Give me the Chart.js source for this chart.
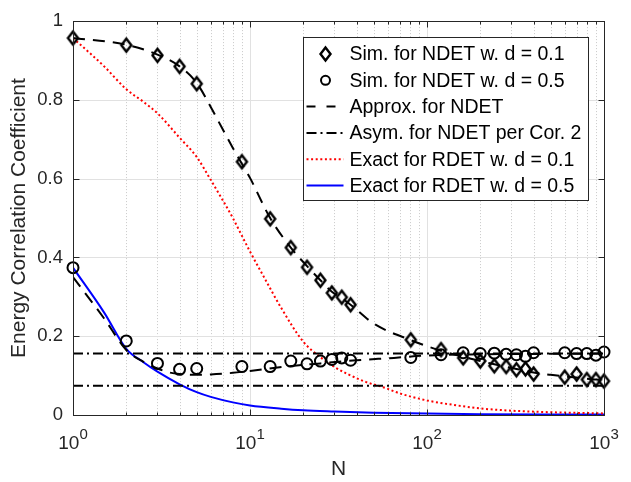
<!DOCTYPE html>
<html>
<head>
<meta charset="utf-8">
<script src="https://cdn.jsdelivr.net/npm/chart.js@4.4.0/dist/chart.umd.min.js"></script>
<style>
  body { margin: 0; background: #fff; }
  #wrap { width: 631px; height: 482px; }
</style>
</head>
<body>
<div id="wrap"><canvas id="chart"></canvas></div>
<script>
// simulated points (same N grid for both)
let nSim = [1, 2, 3, 4, 5, 9, 13, 17, 21, 25, 29, 33, 37, 81, 120, 160, 200, 240, 280, 320, 360, 400, 600, 700, 800, 900, 1000];
let simD01 = [0.957, 0.939, 0.913, 0.885, 0.841, 0.643, 0.498, 0.425, 0.375, 0.342, 0.31, 0.299, 0.28, 0.191, 0.166, 0.145, 0.137, 0.125, 0.123, 0.115, 0.117, 0.104, 0.096, 0.104, 0.09, 0.09, 0.086];
let simD05 = [0.374, 0.188, 0.131, 0.116, 0.118, 0.123, 0.123, 0.137, 0.13, 0.137, 0.141, 0.145, 0.139, 0.146, 0.153, 0.158, 0.156, 0.157, 0.154, 0.153, 0.149, 0.158, 0.158, 0.156, 0.156, 0.152, 0.16];

// approximation curves
let nApx01 = [1, 2, 3, 4, 5, 6, 7, 8, 9, 10, 13, 17, 21, 25, 29, 33, 37, 50, 81, 120, 160, 200, 240, 280, 320, 360, 400, 500, 600, 700, 800, 900, 1000];
let apx01 = [0.957, 0.94, 0.915, 0.885, 0.843, 0.782, 0.726, 0.678, 0.638, 0.602, 0.5, 0.425, 0.378, 0.342, 0.313, 0.297, 0.28, 0.232, 0.19, 0.163, 0.148, 0.137, 0.129, 0.122, 0.117, 0.112, 0.108, 0.102, 0.098, 0.095, 0.092, 0.09, 0.088];
let nApx05 = [1, 1.5, 2, 2.5, 3, 3.5, 4, 5, 6, 8, 10, 16, 25, 40, 65, 100, 200, 400, 1000];
let apx05 = [0.35, 0.245, 0.165, 0.135, 0.118, 0.108, 0.104, 0.102, 0.103, 0.107, 0.112, 0.123, 0.131, 0.139, 0.145, 0.151, 0.154, 0.155, 0.156];

// asymptotes (Cor. 2)
let nAsym = [1, 1000];
let asymHi = [0.156, 0.156];
let asymLo = [0.074, 0.074];

// exact RDET
let nEx01 = [1, 1.5, 2, 2.5, 3, 4, 5, 6, 7, 8, 9, 10, 12, 15, 20, 25, 30, 36, 45, 57, 70, 100, 150, 208, 300, 500, 1000];
let ex01 = [0.957, 0.885, 0.827, 0.795, 0.766, 0.704, 0.655, 0.597, 0.546, 0.5, 0.455, 0.415, 0.35, 0.272, 0.186, 0.147, 0.122, 0.103, 0.084, 0.07, 0.055, 0.037, 0.024, 0.016, 0.011, 0.007, 0.004];
let nEx05 = [1, 1.5, 2, 2.5, 3, 4, 5, 6, 8, 10, 15, 20, 30, 50, 100, 200, 500, 1000];
let ex05 = [0.374, 0.26, 0.168, 0.134, 0.11, 0.078, 0.058, 0.046, 0.032, 0.024, 0.016, 0.012, 0.009, 0.006, 0.004, 0.002, 0.001, 0.001];

// axis labels
let xTicks = [1, 10, 100, 1000];
let xExp = ['0', '1', '2', '3'];

const fam = '"Liberation Sans", Arial, Helvetica, sans-serif';
const axisCol = '#262626';

function pts(xs, ys) {
  return xs.map((x, i) => ({ x: x, y: ys[i] }));
}

// tall diamond marker like matlab's 'd'
function diamond(w, h, lw) {
  let c = document.createElement('canvas');
  c.width = w + lw * 2 + 3;
  c.height = h + lw * 2 + 3;
  let g = c.getContext('2d');
  let cx = c.width / 2, cy = c.height / 2;
  g.strokeStyle = '#000';
  g.lineWidth = lw;
  g.lineJoin = 'miter';
  g.beginPath();
  g.moveTo(cx, cy - h / 2);
  g.lineTo(cx + w / 2, cy);
  g.lineTo(cx, cy + h / 2);
  g.lineTo(cx - w / 2, cy);
  g.closePath();
  g.stroke();
  return c;
}
let diamondImg = diamond(10, 13, 2.4);

// grid, box and inward ticks
const matlabAxes = {
  id: 'matlabAxes',
  beforeDatasetsDraw(chart) {
    const ctx = chart.ctx, a = chart.chartArea;
    const xs = chart.scales.x, ys = chart.scales.y;
    ctx.save();
    ctx.lineWidth = 1;
    for (let d = 1; d <= 100; d *= 10) {
      for (let m = 1; m <= 9; m++) {
        const v = m * d;
        if (v <= 1 || v >= 1000) continue;
        const px = Math.round(xs.getPixelForValue(v)) + 0.5;
        ctx.beginPath();
        if (m === 1) {
          ctx.setLineDash([]);
          ctx.strokeStyle = '#e1e1e1';
        } else {
          ctx.setLineDash([1, 2]);
          ctx.strokeStyle = '#c9c9c9';
        }
        ctx.moveTo(px, a.top);
        ctx.lineTo(px, a.bottom);
        ctx.stroke();
      }
    }
    ctx.setLineDash([]);
    ctx.strokeStyle = '#e1e1e1';
    [0.2, 0.4, 0.6, 0.8].forEach(v => {
      const py = Math.round(ys.getPixelForValue(v)) + 0.5;
      ctx.beginPath();
      ctx.moveTo(a.left, py);
      ctx.lineTo(a.right, py);
      ctx.stroke();
    });
    ctx.restore();
  },
  afterDatasetsDraw(chart) {
    const ctx = chart.ctx, a = chart.chartArea;
    const xs = chart.scales.x, ys = chart.scales.y;
    const L = Math.round(a.left) + 0.5, R = Math.round(a.right) + 0.5;
    const T = Math.round(a.top) + 0.5, B = Math.round(a.bottom) + 0.5;
    ctx.save();
    ctx.strokeStyle = axisCol;
    ctx.lineWidth = 1;
    ctx.beginPath();
    for (let d = 1; d <= 1000; d *= 10) {
      for (let m = 1; m <= 9; m++) {
        const v = m * d;
        if (v > 1000) break;
        const px = Math.round(xs.getPixelForValue(v)) + 0.5;
        const len = m === 1 ? 6 : 3;
        ctx.moveTo(px, B); ctx.lineTo(px, B - len);
        ctx.moveTo(px, T); ctx.lineTo(px, T + len);
      }
    }
    [0, 0.2, 0.4, 0.6, 0.8, 1].forEach(v => {
      const py = Math.round(ys.getPixelForValue(v)) + 0.5;
      ctx.moveTo(L, py); ctx.lineTo(L + 6, py);
      ctx.moveTo(R, py); ctx.lineTo(R - 6, py);
    });
    ctx.stroke();
    ctx.strokeRect(L, T, R - L, B - T);

    // x tick labels 10^k
    ctx.fillStyle = axisCol;
    ctx.textAlign = 'left';
    ctx.textBaseline = 'alphabetic';
    xTicks.forEach((v, i) => {
      const px = xs.getPixelForValue(v);
      ctx.font = '19px ' + fam;
      const wb = ctx.measureText('10').width;
      ctx.font = '15px ' + fam;
      const we = ctx.measureText(xExp[i]).width;
      const x0 = px - (wb + we) / 2;
      ctx.font = '19px ' + fam;
      ctx.fillText('10', x0, 448.5);
      ctx.font = '15px ' + fam;
      ctx.fillText(xExp[i], x0 + wb, 438.5);
    });
    ctx.restore();
  }
};

// boxed legend in the upper right of the axes
const boxLegend = {
  id: 'boxLegend',
  afterDraw(chart) {
    const ctx = chart.ctx, a = chart.chartArea;
    const x0 = Math.round(a.left) + 230.5, y0 = Math.round(a.top) + 16.5;
    const w = 285, h = 163;
    ctx.save();
    ctx.fillStyle = '#fff';
    ctx.fillRect(x0, y0, w, h);
    ctx.strokeStyle = axisCol;
    ctx.lineWidth = 1;
    ctx.strokeRect(x0, y0, w, h);
    let row = 0;
    chart.data.datasets.forEach(ds => {
      if (ds.noLegend) return;
      const cy = y0 + 16.5 + row * 26.3;
      if (ds.showLine) {
        ctx.setLineDash(ds.legendDash || ds.borderDash || []);
        ctx.strokeStyle = ds.borderColor;
        ctx.lineWidth = ds.borderWidth;
        ctx.beginPath();
        ctx.moveTo(x0 + 3, cy);
        ctx.lineTo(x0 + 40, cy);
        ctx.stroke();
        ctx.setLineDash([]);
      } else if (ds.pointStyle === 'circle') {
        ctx.strokeStyle = '#000';
        ctx.lineWidth = 2;
        ctx.beginPath();
        ctx.arc(x0 + 22, cy, 4.5, 0, Math.PI * 2);
        ctx.stroke();
      } else {
        ctx.drawImage(ds.pointStyle, Math.round(x0 + 22 - ds.pointStyle.width / 2), Math.round(cy - ds.pointStyle.height / 2));
      }
      ctx.fillStyle = '#000';
      ctx.font = '19.5px ' + fam;
      ctx.textAlign = 'left';
      ctx.textBaseline = 'middle';
      ctx.fillText(ds.label, x0 + 46, cy + 1);
      row++;
    });
    ctx.restore();
  }
};

let ctx = document.getElementById('chart').getContext('2d');
let chart = new Chart(ctx, {
  type: 'scatter',
  data: {
    datasets: [
      {
        label: 'Sim. for NDET w. d = 0.1',
        data: pts(nSim, simD01),
        pointStyle: diamondImg,
        pointRadius: 6,
        showLine: false,
        clip: false
      },
      {
        label: 'Sim. for NDET w. d = 0.5',
        data: pts(nSim, simD05),
        pointStyle: 'circle',
        pointRadius: 5.5,
        pointBorderWidth: 2,
        pointBorderColor: '#000',
        pointBackgroundColor: 'rgba(0,0,0,0)',
        showLine: false,
        clip: false
      },
      {
        label: 'Approx. for NDET',
        data: pts(nApx01, apx01),
        showLine: true,
        borderColor: '#000',
        borderWidth: 2,
        borderDash: [12, 8],
        legendDash: [9, 11],
        pointRadius: 0,
        cubicInterpolationMode: 'monotone'
      },
      {
        label: 'Approx. for NDET',
        noLegend: true,
        data: pts(nApx05, apx05),
        showLine: true,
        borderColor: '#000',
        borderWidth: 2,
        borderDash: [12, 8],
        pointRadius: 0,
        cubicInterpolationMode: 'monotone'
      },
      {
        label: 'Asym. for NDET per Cor. 2',
        data: pts(nAsym, asymHi),
        showLine: true,
        borderColor: '#000',
        borderWidth: 2,
        borderDash: [10, 4, 2, 4],
        pointRadius: 0
      },
      {
        label: 'Asym. for NDET per Cor. 2',
        noLegend: true,
        data: pts(nAsym, asymLo),
        showLine: true,
        borderColor: '#000',
        borderWidth: 2,
        borderDash: [10, 4, 2, 4],
        pointRadius: 0
      },
      {
        label: 'Exact for RDET w. d = 0.1',
        data: pts(nEx01, ex01),
        showLine: true,
        borderColor: '#ff0000',
        borderWidth: 2,
        borderDash: [2, 2.6],
        pointRadius: 0,
        cubicInterpolationMode: 'monotone'
      },
      {
        label: 'Exact for RDET w. d = 0.5',
        data: pts(nEx05, ex05),
        showLine: true,
        borderColor: '#0000ff',
        borderWidth: 2,
        pointRadius: 0,
        cubicInterpolationMode: 'monotone'
      }
    ]
  },
  options: {
    responsive: true,
    maintainAspectRatio: false,
    animation: false,
    events: [],
    layout: { padding: { top: 8, right: 27, bottom: 0, left: 0 } },
    plugins: {
      legend: { display: false },
      tooltip: { enabled: false }
    },
    scales: {
      x: {
        type: 'logarithmic',
        min: 1,
        max: 1000,
        grid: { display: false, drawTicks: false },
        border: { display: false },
        ticks: { display: false },
        title: {
          display: true,
          text: 'N',
          color: axisCol,
          font: { family: fam, size: 21 },
          padding: { top: 0, bottom: 0 }
        },
        afterFit: s => { s.height = 67; }
      },
      y: {
        min: 0,
        max: 1,
        grid: { display: false, drawTicks: false },
        border: { display: false },
        ticks: {
          stepSize: 0.2,
          padding: 10,
          color: axisCol,
          font: { family: fam, size: 18.5 },
          callback: v => String(+v.toFixed(1))
        },
        title: {
          display: true,
          text: 'Energy Correlation Coefficient',
          color: axisCol,
          font: { family: fam, size: 21 },
          padding: { top: 7, bottom: 0 }
        },
        afterFit: s => { s.width = 73; }
      }
    }
  },
  plugins: [matlabAxes, boxLegend]
});
</script>
</body>
</html>
